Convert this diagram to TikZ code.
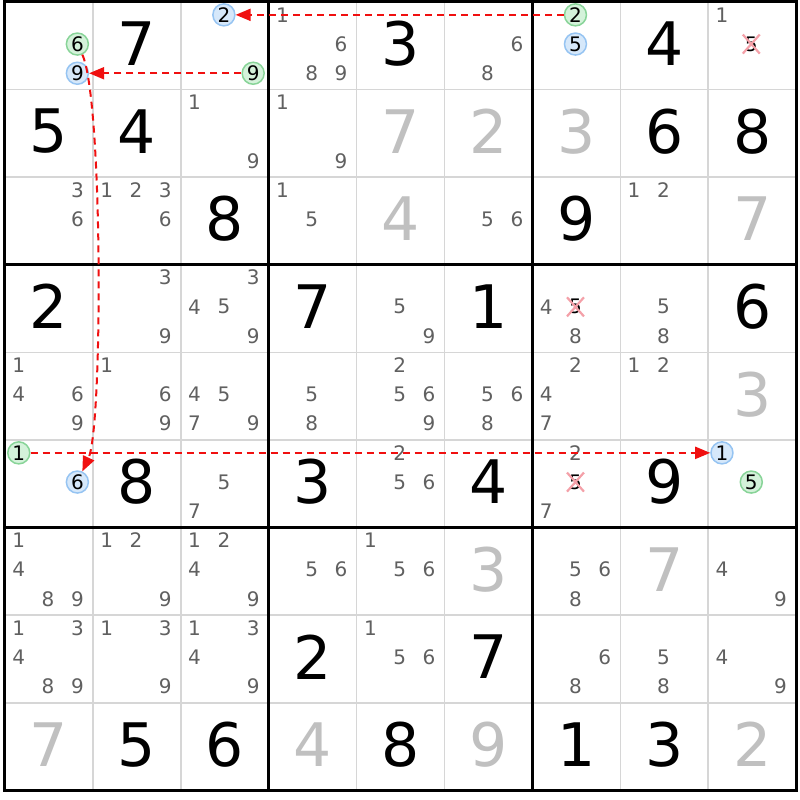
\documentclass[tikz,border=0pt]{standalone}
\usepackage{fontspec}
\setmainfont{DejaVu Sans}
\usepackage{tikz}
\usetikzlibrary{arrows.meta}
\usetikzlibrary{shapes.misc}

\definecolor{candgray}{HTML}{606060}
\definecolor{solvedgray}{HTML}{C0C0C0}
\definecolor{gridgray}{HTML}{D6D6D6}
\definecolor{bluefill}{HTML}{D6E8FA}
\definecolor{blueline}{HTML}{96C4F2}
\definecolor{greenfill}{HTML}{D4F2DA}
\definecolor{greenline}{HTML}{88D498}
\definecolor{xpink}{HTML}{F4A0A8}
\definecolor{linkred}{HTML}{F01010}

\begin{document}
\begin{tikzpicture}[x=87.9pt, y=-87.6pt,
				   given/.style={text=black, font=\fontsize{60}{60}\selectfont, yshift=2pt, inner sep=0pt},
				   solved/.style={given, text=solvedgray},
				   cand/.style={text=candgray, font=\fontsize{20}{20}\selectfont, inner sep=0pt},
				   hlblue/.style={cand, text=black, circle, draw=blueline, fill=bluefill, line width=1.5pt, minimum size=22pt},
				   hlgreen/.style={hlblue, draw=greenline, fill=greenfill},
				   crossed/.style={cand, text=black, cross out, draw=xpink, line width=2.2pt, inner sep=1pt},
				   thinline/.style={draw=gridgray, line width=1.6pt},
				   thickline/.style={draw=black, line width=3pt},
				   link/.style={draw=linkred, line width=2pt, dash pattern=on 7pt off 5pt, -{Triangle[length=15pt, width=12pt]}}]
\useasboundingbox (-5pt,2pt) rectangle (795pt,-798pt);
\fill[white] (-5pt,2pt) rectangle (795pt,-798pt);

% grid
\foreach \i in {1,...,8}
	\draw[thinline] (\i,0) -- (\i,9) (0,\i) -- (9,\i);
\foreach \i in {3,6}
	\draw[thickline] (\i,0) -- (\i,9) (0,\i) -- (9,\i);
\draw[thickline] (0,0) rectangle (9,9);

% givens and solved cells
\foreach \r/\c/\d in {1/2/7, 1/5/3, 1/8/4, 2/1/5, 2/2/4, 2/8/6, 2/9/8, 3/3/8, 3/7/9,
		4/1/2, 4/4/7, 4/6/1, 4/9/6, 6/2/8, 6/4/3, 6/6/4, 6/8/9, 8/4/2, 8/6/7,
		9/2/5, 9/3/6, 9/5/8, 9/7/1, 9/8/3}
	\node[given] (g-\r-\c) at (\c-0.5,\r-0.5) {\d};
\foreach \r/\c/\d in {2/5/7, 2/6/2, 2/7/3, 3/5/4, 3/9/7, 5/9/3, 7/6/3, 7/8/7,
		9/1/7, 9/4/4, 9/6/9, 9/9/2}
	\node[solved] (s-\r-\c) at (\c-0.5,\r-0.5) {\d};

% candidates
\foreach \r/\c/\ds in {1/4/{1,6,8,9}, 1/6/{6,8}, 1/9/{1}, 2/3/{1,9}, 2/4/{1,9},
		3/1/{3,6}, 3/2/{1,2,3,6}, 3/4/{1,5}, 3/6/{5,6}, 3/8/{1,2},
		4/2/{3,9}, 4/3/{3,4,5,9}, 4/5/{5,9}, 4/7/{4,8}, 4/8/{5,8},
		5/1/{1,4,6,9}, 5/2/{1,6,9}, 5/3/{4,5,7,9}, 5/4/{5,8}, 5/5/{2,5,6,9},
		5/6/{5,6,8}, 5/7/{2,4,7}, 5/8/{1,2},
		6/3/{5,7}, 6/5/{2,5,6}, 6/7/{2,7},
		7/1/{1,4,8,9}, 7/2/{1,2,9}, 7/3/{1,2,4,9}, 7/4/{5,6}, 7/5/{1,5,6},
		7/7/{5,6,8}, 7/9/{4,9},
		8/1/{1,3,4,8,9}, 8/2/{1,3,9}, 8/3/{1,3,4,9}, 8/5/{1,5,6}, 8/7/{6,8},
		8/8/{5,8}, 8/9/{4,9}}
	\foreach \d in \ds
		\node[cand] (c-\r-\c-\d) at ({\c-1+(mod(\d-1,3)+0.47)/3},{\r-1+(floor((\d-1)/3)+0.44)/3}) {\d};
\foreach \r/\c/\d/\k in {1/1/6/hlgreen, 1/1/9/hlblue, 1/3/2/hlblue, 1/3/9/hlgreen,
		1/7/2/hlgreen, 1/7/5/hlblue, 6/1/1/hlgreen, 6/1/6/hlblue,
		6/9/1/hlblue, 6/9/5/hlgreen, 1/9/5/crossed, 4/7/5/crossed, 6/7/5/crossed}
	\node[\k] (c-\r-\c-\d) at ({\c-1+(mod(\d-1,3)+0.47)/3},{\r-1+(floor((\d-1)/3)+0.44)/3}) {\d};

% links
\draw[link] (c-1-7-2) -- (c-1-3-2);
\draw[link] (c-1-3-9) -- (c-1-1-9);
\draw[link] (c-1-1-6) to[out=-65, in=65, looseness=0.3] (c-6-1-6);
\draw[link] (c-6-1-1) -- (c-6-9-1);
\end{tikzpicture}
\end{document}
